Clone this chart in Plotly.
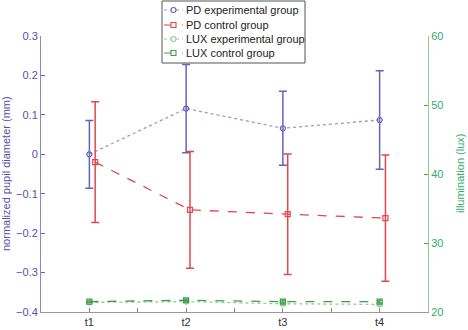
import plotly.graph_objects as go

categories = ["t1", "t2", "t3", "t4"]
cat_pos = [1, 2, 3, 4]

pd_exp_x = [1.0, 2.0, 3.0, 4.0]
pd_exp = [0.0, 0.116, 0.066, 0.087]
pd_exp_err = [0.086, 0.112, 0.094, 0.125]

pd_ctl_x = [1.06, 2.04, 3.05, 4.06]
pd_ctl = [-0.02, -0.141, -0.152, -0.162]
pd_ctl_err = [0.153, 0.148, 0.153, 0.160]

lux_exp = [21.4, 21.5, 21.2, 21.1]
lux_exp_err = [0.1, 0.2, 0.2, 0.2]
lux_ctl = [21.5, 21.7, 21.5, 21.5]
lux_ctl_err = [0.1, 0.2, 0.2, 0.2]

series_names = ["PD experimental group", "PD control group",
                "LUX experimental group", "LUX control group"]

BLUE = "#6464b8"
BLUE_TXT = "#5252aa"
RED = "#e0484e"
LGREEN = "#8fd08f"
GREEN = "#3c9e50"
GREEN_TXT = "#2fae6a"
FONT = "Liberation Sans, Arial, sans-serif"

styles = [
    dict(line="#9a9acc", mk=BLUE, dash="dot", sym="circle", ecol=BLUE, eth=1.5, ew=4),
    dict(line=RED, mk=RED, dash="dash", sym="square", ecol=RED, eth=1.5, ew=4),
    dict(line=LGREEN, mk=LGREEN, dash="dot", sym="circle", ecol=LGREEN, eth=1, ew=3),
    dict(line=GREEN, mk=GREEN, dash="dash", sym="square", ecol=GREEN, eth=1, ew=3),
]
xs = [pd_exp_x, pd_ctl_x, cat_pos, cat_pos]
ys = [pd_exp, pd_ctl, lux_exp, lux_ctl]
errs = [pd_exp_err, pd_ctl_err, lux_exp_err, lux_ctl_err]
axes = ["y", "y", "y2", "y2"]

fig = go.Figure()
for name, st, x, y, e, ax in zip(series_names, styles, xs, ys, errs, axes):
    fig.add_trace(go.Scatter(
        x=x, y=y, name=name, mode="lines+markers", yaxis=ax, showlegend=False,
        line=dict(color=st["line"], dash=st["dash"], width=1.3),
        marker=dict(symbol=st["sym"] + "-open", size=5, color=st["mk"], line=dict(width=1.2)),
        error_y=dict(type="data", array=e, color=st["ecol"], thickness=st["eth"], width=st["ew"]),
    ))

# plot-area geometry (pixels) used to place the hand-drawn legend box
L, R, T, B = 41, 428, 36, 312
def px(xp):
    return (xp - L) / (R - L)
def py(yp):
    return (B - yp) / (B - T)

shapes = [dict(type="rect", xref="paper", yref="paper",
               x0=px(162), x1=px(305), y0=py(1), y1=py(63),
               line=dict(color="#555", width=1), fillcolor="white", layer="above")]
annotations = []
row_y = [10, 25, 39, 53]
for name, st, ry in zip(series_names, styles, row_y):
    shapes.append(dict(type="line", xref="paper", yref="paper",
                       x0=px(164), x1=px(183), y0=py(ry), y1=py(ry),
                       line=dict(color=st["line"], width=1.2, dash=st["dash"]), layer="above"))
    shapes.append(dict(type="circle" if st["sym"] == "circle" else "rect",
                       xref="paper", yref="paper",
                       x0=px(171), x1=px(176), y0=py(ry - 2.5), y1=py(ry + 2.5),
                       line=dict(color=st["mk"], width=1.1), fillcolor="white", layer="above"))
    annotations.append(dict(text=name, showarrow=False, xref="paper", yref="paper",
                            x=px(184), y=py(ry), xanchor="left", yanchor="middle",
                            font=dict(size=11, color="#222")))

annotations += [
    dict(text="normalized pupil diameter (mm)", textangle=-90, showarrow=False,
         xref="paper", yref="paper", x=px(6), y=0.5,
         xanchor="center", yanchor="middle", font=dict(size=11, color=BLUE_TXT)),
    dict(text="illumination (lux)", textangle=-90, showarrow=False,
         xref="paper", yref="paper", x=px(460), y=0.5,
         xanchor="center", yanchor="middle", font=dict(size=11, color=GREEN_TXT)),
]

fig.update_layout(
    width=468, height=330,
    margin=dict(l=L, r=468 - R, t=T, b=330 - B, autoexpand=False),
    paper_bgcolor="white", plot_bgcolor="white",
    font=dict(family=FONT, size=11, color="#333"),
    showlegend=False,
    shapes=shapes,
    annotations=annotations,
    xaxis=dict(
        range=[0.5, 4.5], tickmode="array", tickvals=cat_pos, ticktext=categories,
        ticks="inside", ticklen=4, tickcolor="#888", showline=True, linecolor="#999",
        linewidth=1, showgrid=False, zeroline=False, automargin=False,
        tickfont=dict(size=11, color="#333"),
        minor=dict(tickmode="array", tickvals=[1.5, 2.5, 3.5], ticks="inside", ticklen=4, tickcolor="#888"),
    ),
    yaxis=dict(
        range=[-0.4, 0.3], tickmode="array",
        tickvals=[-0.4, -0.3, -0.2, -0.1, 0, 0.1, 0.2, 0.3],
        ticktext=["\u22120.4", "\u22120.3", "\u22120.2", "\u22120.1", "0", "0.1", "0.2", "0.3"],
        ticks="inside", ticklen=4, tickcolor=BLUE, showline=True, linecolor="#8a8ac8",
        linewidth=1, showgrid=False, zeroline=False, automargin=False,
        tickfont=dict(size=11, color=BLUE_TXT),
    ),
    yaxis2=dict(
        range=[20, 60], overlaying="y", side="right", tickvals=[20, 30, 40, 50, 60],
        ticks="inside", ticklen=4, tickcolor=GREEN_TXT, showline=True, linecolor="#90cc90",
        linewidth=1, showgrid=False, zeroline=False, automargin=False,
        tickfont=dict(size=11, color=GREEN_TXT),
    ),
)

fig.write_html("out.html")
